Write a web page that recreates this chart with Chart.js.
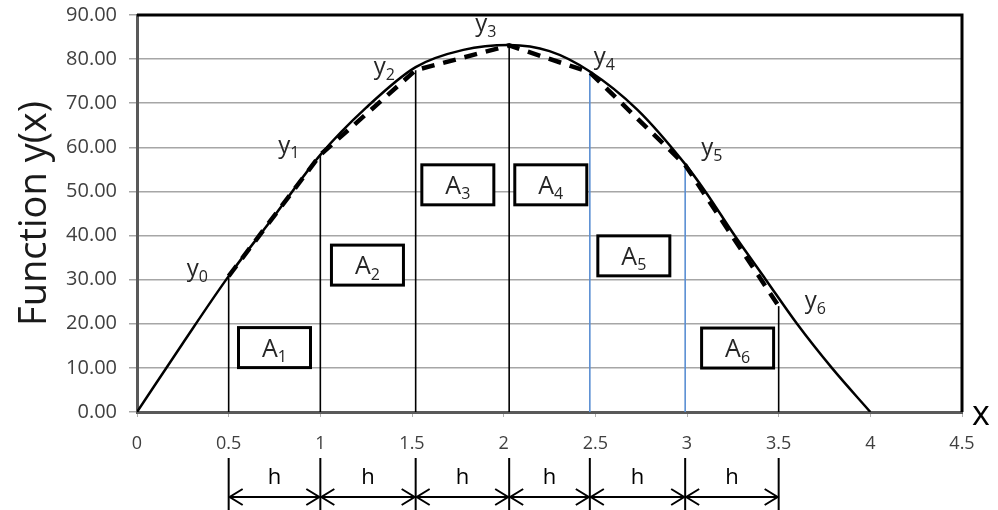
<!DOCTYPE html>
<html>
<head>
<meta charset="utf-8">
<script src="https://cdn.jsdelivr.net/npm/chart.js@4.4.1/dist/chart.umd.min.js"></script>
<style>
  html, body { margin: 0; padding: 0; background: #fff; }
  #wrap { width: 998px; height: 510px; }
</style>
</head>
<body>
<div id="wrap"><canvas id="trapChart"></canvas></div>
<script>
// --- data ---
const curveX = [0, 0.25, 0.5, 0.75, 1.0, 1.25, 1.52, 1.78, 2.03, 2.25, 2.47, 2.73, 2.99, 3.10, 3.26, 3.43, 3.60, 3.79, 4.0];
const curveY = [0, 15.6, 30.8, 44.5, 58.3, 69.0, 78.2, 82.1, 83.2, 81.8, 77.2, 68.5, 56.2, 50, 40, 30, 20, 10, 0];

// nodes y0..y6 (trapezoid corners)
const nodeX = [0.5, 1.0, 1.52, 2.03, 2.47, 2.99, 3.5];
const nodeY = [30.8, 58.3, 77.5, 83.1, 77.0, 56.0, 24.0];
const nodeNames = ['0', '1', '2', '3', '4', '5', '6'];

// area boxes A1..A6 (centres)
const areaNames = ['1', '2', '3', '4', '5', '6'];
const areaX = [0.75, 1.257, 1.75, 2.257, 2.71, 3.276];
const areaY = [14.6, 33.3, 51.5, 51.5, 35.4, 14.5];

const yTickMin = 0, yTickMax = 90, yTickStep = 10;
const xTickMin = 0, xTickMax = 4.5, xTickStep = 0.5;

const FONT = '"Open Sans", "Liberation Sans", sans-serif';
const BLUE = '#5b8fd3';

// vertical lines from the axis up to each node
const verticalSets = nodeX.map((x, i) => ({
    data: [{ x: x, y: 0 }, { x: x, y: nodeY[i] }],
    showLine: true,
    borderColor: (i === 4 || i === 5) ? BLUE : '#000',
    borderWidth: 1.6,
    pointRadius: 0,
    order: 3
}));

// text with a subscript
function subText(ctx, base, sub, x, y, size, subSize, align) {
    ctx.font = size + 'px ' + FONT;
    const w1 = ctx.measureText(base).width;
    ctx.font = subSize + 'px ' + FONT;
    const w2 = ctx.measureText(sub).width;
    let left = x;
    if (align === 'center') left = x - (w1 + w2) / 2;
    ctx.textAlign = 'left';
    ctx.textBaseline = 'alphabetic';
    ctx.font = size + 'px ' + FONT;
    ctx.fillText(base, left, y);
    ctx.font = subSize + 'px ' + FONT;
    ctx.fillText(sub, left + w1, y + subSize * 0.35);
}

// offsets of the y_i labels from their node (px)
const labelOffsets = [[-42, 0], [-42, -2], [-42, 4], [-34, -14], [4, -8], [16, -10], [26, 2]];

const extras = {
    id: 'extras',
    afterDatasetsDraw(chart) {
        const { ctx, chartArea: a, scales: { x, y } } = chart;
        ctx.save();
        // frame top + right
        ctx.strokeStyle = '#000';
        ctx.lineWidth = 3;
        ctx.beginPath();
        ctx.moveTo(a.left, a.top);
        ctx.lineTo(a.right, a.top);
        ctx.lineTo(a.right, a.bottom);
        ctx.stroke();

        // node labels
        ctx.fillStyle = '#262626';
        nodeX.forEach((nx, i) => {
            const px = x.getPixelForValue(nx) + labelOffsets[i][0];
            const py = y.getPixelForValue(nodeY[i]) + labelOffsets[i][1];
            subText(ctx, 'y', nodeNames[i], px, py, 24, 16, 'left');
        });

        // area boxes
        areaX.forEach((ax, i) => {
            const cx = x.getPixelForValue(ax), cy = y.getPixelForValue(areaY[i]);
            const w = 72, h = 40;
            ctx.fillStyle = '#fff';
            ctx.fillRect(cx - w / 2, cy - h / 2, w, h);
            ctx.strokeStyle = '#000';
            ctx.lineWidth = 3;
            ctx.strokeRect(cx - w / 2, cy - h / 2, w, h);
            ctx.fillStyle = '#262626';
            subText(ctx, 'A', areaNames[i], cx, cy + 9, 25, 16, 'center');
        });
        ctx.restore();
    },
    afterDraw(chart) {
        const { ctx, scales: { x }, chartArea: a } = chart;
        ctx.save();
        // x label at the end of the axis
        ctx.fillStyle = '#000';
        ctx.font = '34px ' + FONT;
        ctx.textAlign = 'left';
        ctx.textBaseline = 'alphabetic';
        ctx.fillText('x', a.right + 10, a.bottom + 13);

        // h dimension arrows below the axis
        const top = 458, arrowY = 497;
        ctx.strokeStyle = '#000';
        ctx.lineWidth = 2;
        const px = nodeX.map(v => x.getPixelForValue(v));
        px.forEach(p => {
            ctx.beginPath();
            ctx.moveTo(p, top);
            ctx.lineTo(p, 510);
            ctx.stroke();
        });
        ctx.fillStyle = '#000';
        ctx.font = '22px ' + FONT;
        ctx.textAlign = 'center';
        ctx.textBaseline = 'alphabetic';
        for (let i = 0; i < px.length - 1; i++) {
            const l = px[i] + 1, r = px[i + 1] - 1;
            ctx.beginPath();
            ctx.moveTo(l, arrowY);
            ctx.lineTo(r, arrowY);
            ctx.moveTo(l + 13, arrowY - 8);
            ctx.lineTo(l, arrowY);
            ctx.lineTo(l + 13, arrowY + 8);
            ctx.moveTo(r - 13, arrowY - 8);
            ctx.lineTo(r, arrowY);
            ctx.lineTo(r - 13, arrowY + 8);
            ctx.stroke();
            ctx.fillText('h', (l + r) / 2, 484);
        }
        ctx.restore();
    }
};

const ctx = document.getElementById('trapChart').getContext('2d');
const trapChart = new Chart(ctx, {
    type: 'scatter',
    data: {
        datasets: [
            {
                label: 'y(x)',
                data: curveX.map((v, i) => ({ x: v, y: curveY[i] })),
                showLine: true,
                borderColor: '#000',
                borderWidth: 2.5,
                cubicInterpolationMode: 'monotone',
                pointRadius: 0,
                order: 1
            },
            {
                label: 'trapezoids',
                data: nodeX.map((v, i) => ({ x: v, y: nodeY[i] })),
                showLine: true,
                borderColor: '#000',
                borderWidth: 4.5,
                borderDash: [13, 9],
                pointRadius: 0,
                order: 2
            },
            ...verticalSets
        ]
    },
    options: {
        responsive: true,
        maintainAspectRatio: false,
        animation: false,
        layout: { padding: { top: 15, right: 36, left: 0, bottom: 0 } },
        plugins: {
            legend: { display: false },
            tooltip: { enabled: false }
        },
        scales: {
            x: {
                type: 'linear',
                min: xTickMin,
                max: xTickMax,
                afterFit: s => { s.height = 98; s.paddingLeft = 0; s.paddingRight = 0; },
                ticks: {
                    stepSize: xTickStep,
                    color: '#404040',
                    font: { family: FONT, size: 18 },
                    padding: 16,
                    maxRotation: 0,
                    callback: v => String(v)
                },
                grid: {
                    drawOnChartArea: false,
                    drawTicks: true,
                    tickLength: 5,
                    color: '#b0b0b0',
                    lineWidth: 1
                },
                border: { color: '#595959', width: 3 }
            },
            y: {
                type: 'linear',
                min: yTickMin,
                max: yTickMax,
                afterFit: s => { s.width = 137; s.paddingTop = 0; s.paddingBottom = 0; },
                ticks: {
                    stepSize: yTickStep,
                    color: '#404040',
                    font: { family: FONT, size: 20 },
                    padding: 12,
                    callback: v => v.toFixed(2)
                },
                grid: {
                    color: '#a6a6a6',
                    lineWidth: 1.5,
                    tickLength: 8
                },
                border: { color: '#595959', width: 3 },
                title: {
                    display: true,
                    text: 'Function y(x)',
                    color: '#1a1a1a',
                    font: { family: FONT, size: 38 },
                    padding: { top: 12, bottom: 0 }
                }
            }
        }
    },
    plugins: [extras]
});
</script>
</body>
</html>
